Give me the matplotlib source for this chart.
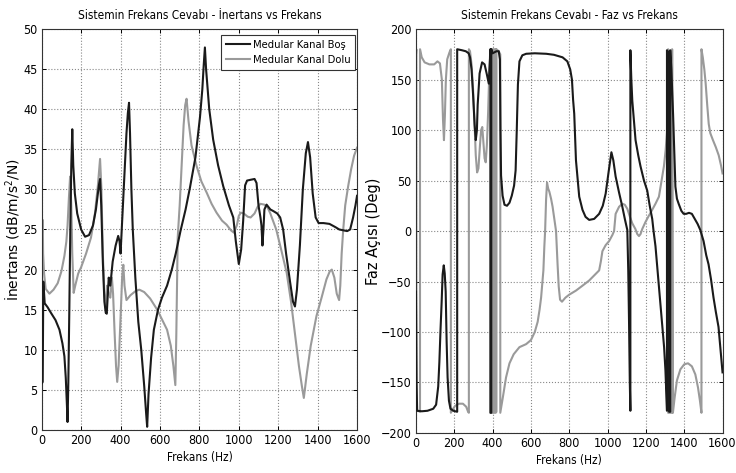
import matplotlib
matplotlib.use('Agg')
import matplotlib.pyplot as plt

# ── Data ──────────────────────────────────────────────────────────────────────
# Inertans, Medular Kanal Boş (black)
bos_in_f = [0, 5, 8, 12, 15, 30, 47, 70, 90, 105, 115, 122, 128, 131, 135, 140,
            145, 150, 155, 160, 168, 180, 200, 220, 240, 260, 275, 290, 296, 302,
            310, 318, 325, 330, 340, 348, 360, 375, 388, 395, 400, 410, 420, 430,
            437, 443, 448, 455, 462, 475, 490, 505, 520, 530, 535, 542, 555, 569,
            590, 610, 636, 660, 680, 704, 730, 752, 780, 803, 815, 822, 828, 834,
            850, 870, 895, 921, 950, 972, 985, 1000, 1012, 1022, 1032, 1042, 1060,
            1080, 1090, 1100, 1110, 1115, 1120, 1125, 1130, 1141, 1160, 1175, 1195,
            1210, 1225, 1240, 1260, 1275, 1285, 1295, 1310, 1325, 1340, 1351, 1362,
            1375, 1390, 1405, 1430, 1460, 1490, 1510, 1530, 1550, 1565, 1580, 1592,
            1600]
bos_in_db = [5.8, 6, 18.5, 17, 15.8, 15.3, 14.6, 13.7, 12.5, 10.8, 9.2, 6.5, 3, 1.0,
             6, 15, 25, 33, 37.5, 33, 29.5, 27, 25, 24.1, 24.3, 25.5, 27.5, 30.5,
             31.3, 28, 21, 16, 14.6, 14.5, 19, 18, 21, 23, 24.2, 23.5, 22, 27, 32,
             37, 39.5, 40.8, 37, 30, 25, 19, 13.5, 10, 5.5, 2, 0.4, 4.5, 9, 12.5,
             15, 16.5, 18, 20, 22, 24.8, 27.5, 30.2, 34, 39, 42.5, 45.5, 47.7, 45,
             40, 36.2, 33, 30.4, 28, 26.5, 23.5, 20.7, 22.5, 26, 30.5, 31.1, 31.2,
             31.3, 30.8, 28, 26.5, 25.5, 23.0, 25, 27.5, 28.1, 27.5, 27.3, 27,
             26.5, 25, 22, 18.5, 16, 15.4, 17.5, 23, 30, 34.5, 35.9, 34,
             29.5, 26.5, 25.8, 25.8, 25.7, 25.3, 25.0, 24.9, 24.8, 25.0, 26.5, 28,
             29.2]

# Inertans, Medular Kanal Dolu (gray)
dolu_in_f = [0, 5, 7, 12, 20, 39, 60, 81, 100, 115, 125, 131, 138, 144, 150, 155,
             162, 170, 185, 200, 225, 250, 270, 285, 296, 303, 310, 318, 325, 332,
             340, 348, 356, 362, 370, 377, 383, 390, 400, 408, 414, 420, 430, 450,
             475, 495, 520, 550, 586, 610, 636, 655, 668, 678, 683, 690, 700, 710,
             720, 728, 735, 745, 760, 786, 810, 837, 862, 887, 915, 938, 960, 975,
             990, 1000, 1010, 1025, 1045, 1060, 1080, 1095, 1110, 1130, 1145, 1160,
             1175, 1190, 1215, 1243, 1265, 1285, 1305, 1320, 1330, 1345, 1365, 1394,
             1420, 1445, 1462, 1472, 1485, 1497, 1509, 1515, 1522, 1530, 1540, 1555,
             1570, 1585, 1600]
dolu_in_db = [24, 26.2, 22, 19.5, 17.6, 17.0, 17.5, 18.3, 19.8, 21.7, 23.5, 25.5, 29,
              31.6, 28, 22, 17.1, 18, 19.5, 20.3, 22, 24, 27, 30.5, 33.8, 30, 22,
              17, 15, 18, 17, 16.5, 19, 17, 12, 8, 6.0, 8, 14, 19, 20.6, 18, 16.2,
              16.8, 17.3, 17.5, 17.2, 16.4, 15, 13.8, 12.5, 10.5, 8, 5.6, 12, 24,
              28, 33, 38, 40.5, 41.3, 38.5, 35.5, 32.9, 31, 29.6, 28.2, 27.1, 26.1,
              25.6, 24.9, 24.6, 25.5, 26.7, 27.1, 27.0, 26.6, 26.5, 27, 27.8, 28.2,
              28.1, 27.8, 27, 26, 25, 22.5, 19.6, 16, 12, 8, 5.5, 4.0, 7, 10.5, 14.2,
              16.5, 18.8, 19.8, 20, 19, 17, 16.2, 18, 22, 25, 28, 30.4,
              32.5, 34.2, 35.2]

# Faz, Medular Kanal Boş (black) -- wrapped to +-180
bos_faz_f = [0, 3, 6, 30, 60, 90, 105, 116, 122, 128, 134, 139, 145, 150, 155, 160,
             165, 172, 180, 195, 215, 215, 240, 260, 275, 282, 290, 298, 306, 312,
             318, 322, 332, 345, 358, 370, 380, 385, 389, 389, 393, 393, 400, 420,
             432, 438, 441, 444, 452, 462, 475, 488, 500, 512, 520,
             526, 532, 540, 555, 575, 620, 680, 720, 765, 790, 805, 814, 820, 826,
             835, 852, 869, 885, 904, 930, 956, 975, 990, 1005, 1020, 1030, 1042,
             1060, 1077, 1090, 1103, 1108, 1112, 1116, 1119, 1119, 1124, 1129, 1146,
             1160, 1172, 1190, 1207, 1220, 1233, 1240, 1250, 1268, 1285, 1295, 1302,
             1310, 1310, 1316, 1321, 1321, 1327, 1327, 1333, 1342, 1348, 1354, 1362,
             1371, 1385, 1397, 1410, 1425, 1440, 1458, 1470, 1484, 1501, 1515, 1527,
             1540, 1553, 1565, 1579, 1590, 1600]
bos_faz_deg = [-60, -150, -178, -178.5, -178, -176, -172, -154, -130, -98, -70, -43,
               -34, -42, -60, -110, -145, -168, -176, -178, -179, 180, 179, 178, 176,
               172, 160, 135, 105, 90, 100, 125, 156, 167, 165, 155, 146, 165, 180,
               -180, -180, 180, 176, 178, 178, 170, 100, 55, 35, 26,
               25, 28, 35, 45, 60, 100, 145, 168, 174, 175.5, 176, 175.5, 174.5, 172,
               168, 160, 150, 130, 116, 70, 34, 21, 14, 11, 12, 17, 25, 37, 58, 78,
               70, 54, 38, 24, 12, 1, -40, -90, -150, -178, 179, 150, 129, 90, 75,
               64, 50, 40, 25, 12, 0, -15, -55, -92, -115, -138, -178, 179, 168, 178,
               -179, -179, 179, 160, 115, 80, 44, 32, 27, 20, 17, 17, 18, 17, 11, 7,
               1, -10, -24, -33, -48, -66, -80, -95, -118, -140]

# Faz, Medular Kanal Dolu (gray)
dolu_faz_f = [0, 2, 2, 10, 21, 21, 30, 45, 70, 95, 112, 125, 135, 141, 146, 151, 156,
              163, 175, 182, 182, 190, 205, 225, 245, 262, 272, 276, 276, 282, 290,
              298, 305, 312, 319, 326, 334, 340, 346, 352, 358, 364, 370, 377, 383,
              388, 388, 395, 395, 402, 402, 409, 409, 416, 416, 420, 420, 432, 440,
              440, 447, 454, 470, 488, 510, 540, 575, 600, 620, 635, 645, 653, 660,
              665, 670, 674, 679, 684, 690, 696, 705, 713, 722, 731, 739, 745, 752,
              762, 780, 800, 835, 870, 904, 930, 956, 965, 973, 990, 1008, 1025,
              1034, 1042, 1060, 1077, 1090, 1103, 1115, 1129, 1145, 1155, 1164, 1172,
              1181, 1198, 1215, 1233, 1250, 1268, 1282, 1294, 1303, 1311, 1316, 1316,
              1337, 1337, 1341, 1350, 1362, 1380, 1400, 1420, 1440, 1458, 1472, 1482,
              1490, 1490, 1497, 1505, 1512, 1520, 1528, 1536, 1550, 1565, 1580, 1592,
              1600]
dolu_faz_deg = [175, 180, -178, -178, -179, 180, 172, 167, 165, 165, 168, 166, 150,
                110, 90, 115, 150, 170, 177, 180, -180, -177, -173, -171, -171, -174,
                -179, -180, 180, 178, 165, 140, 110, 75, 58, 62, 85, 100, 103, 88, 72,
                68, 85, 120, 160, 180, -180, -180, 180, 180, -180, -180, 180, 180,
                -180, -179, 180, 178, 175, -180, -172, -164, -145, -131, -122, -115,
                -112, -108, -100, -90, -78, -66, -50, -39, -15, 0, 31, 48, 42, 39, 32,
                24, 12, 0, -33, -55, -68, -70, -66, -63, -59, -54, -49, -44, -39, -30,
                -20, -14, -10, -4, 0, 17, 24, 27, 26, 22, 15, 7.6, 2, -3, -5, -3, 2,
                9, 15, 21, 27, 34, 50, 64, 80, 100, 180, -180, -180, 180, -180, -165,
                -148, -137, -132, -131, -134, -142, -155, -168, -180, 180, 172, 160,
                146, 125, 106, 97, 90, 83, 75, 65, 57]

LABELS = ['Medular Kanal Boş', 'Medular Kanal Dolu']
BLACK = '#1a1a1a'
GRAY = '#9a9a9a'

# ── Plot ──────────────────────────────────────────────────────────────────────
plt.rcParams['font.family'] = ['DejaVu Sans']
plt.rcParams['font.stretch'] = 'condensed'
plt.rcParams['font.size'] = 8.5

fig = plt.figure(figsize=(7.36, 4.73), dpi=100)
ax1 = fig.add_axes([0.0567, 0.0909, 0.4284, 0.8478])
ax2 = fig.add_axes([0.5652, 0.0846, 0.4165, 0.854])


def matlab_style(ax):
    ax.grid(True, ls=':', color='#888888', lw=0.8)
    ax.tick_params(direction='in', length=3, width=0.7, top=True, right=True,
                   labelsize=9, pad=3)
    for s in ax.spines.values():
        s.set_linewidth(0.8)
        s.set_color('#333333')
    ax.set_xlim(0, 1600)
    ax.set_xticks(range(0, 1601, 200))


# Left: inertans
ax1.plot(bos_in_f, bos_in_db, color=BLACK, lw=1.5, label=LABELS[0], zorder=3)
ax1.plot(dolu_in_f, dolu_in_db, color=GRAY, lw=1.5, label=LABELS[1], zorder=2)
matlab_style(ax1)
ax1.set_ylim(0, 50)
ax1.set_yticks(range(0, 51, 5))
ax1.set_title('Sistemin Frekans Cevabı - İnertans vs Frekans', fontsize=8.5, pad=7)
ax1.set_xlabel('Frekans (Hz)', fontsize=8.5, labelpad=3)
ax1.set_ylabel('İnertans (dB/m/s$^2$/N)', fontsize=10, fontstretch='normal',
               labelpad=0)
leg = ax1.legend(loc='upper right', bbox_to_anchor=(0.994, 0.985), fontsize=8,
                 frameon=True, fancybox=False, framealpha=1, edgecolor='#333333',
                 handlelength=2.2, handletextpad=0.2, borderaxespad=0,
                 borderpad=0.45, labelspacing=0.45)
leg.get_frame().set_linewidth(0.8)

# Right: phase
ax2.plot(bos_faz_f, bos_faz_deg, color=BLACK, lw=1.5, zorder=3)
ax2.plot(dolu_faz_f, dolu_faz_deg, color=GRAY, lw=1.5, zorder=2)
matlab_style(ax2)
ax2.set_ylim(-200, 200)
ax2.set_yticks(range(-200, 201, 50))
ax2.set_title('Sistemin Frekans Cevabı - Faz vs Frekans', fontsize=8.5, pad=7)
ax2.set_xlabel('Frekans (Hz)', fontsize=8.5, labelpad=3)
ax2.set_ylabel('Faz Açısı (Deg)', fontsize=10.5, fontstretch='normal', labelpad=0)

fig.savefig('out.png', dpi=100)
